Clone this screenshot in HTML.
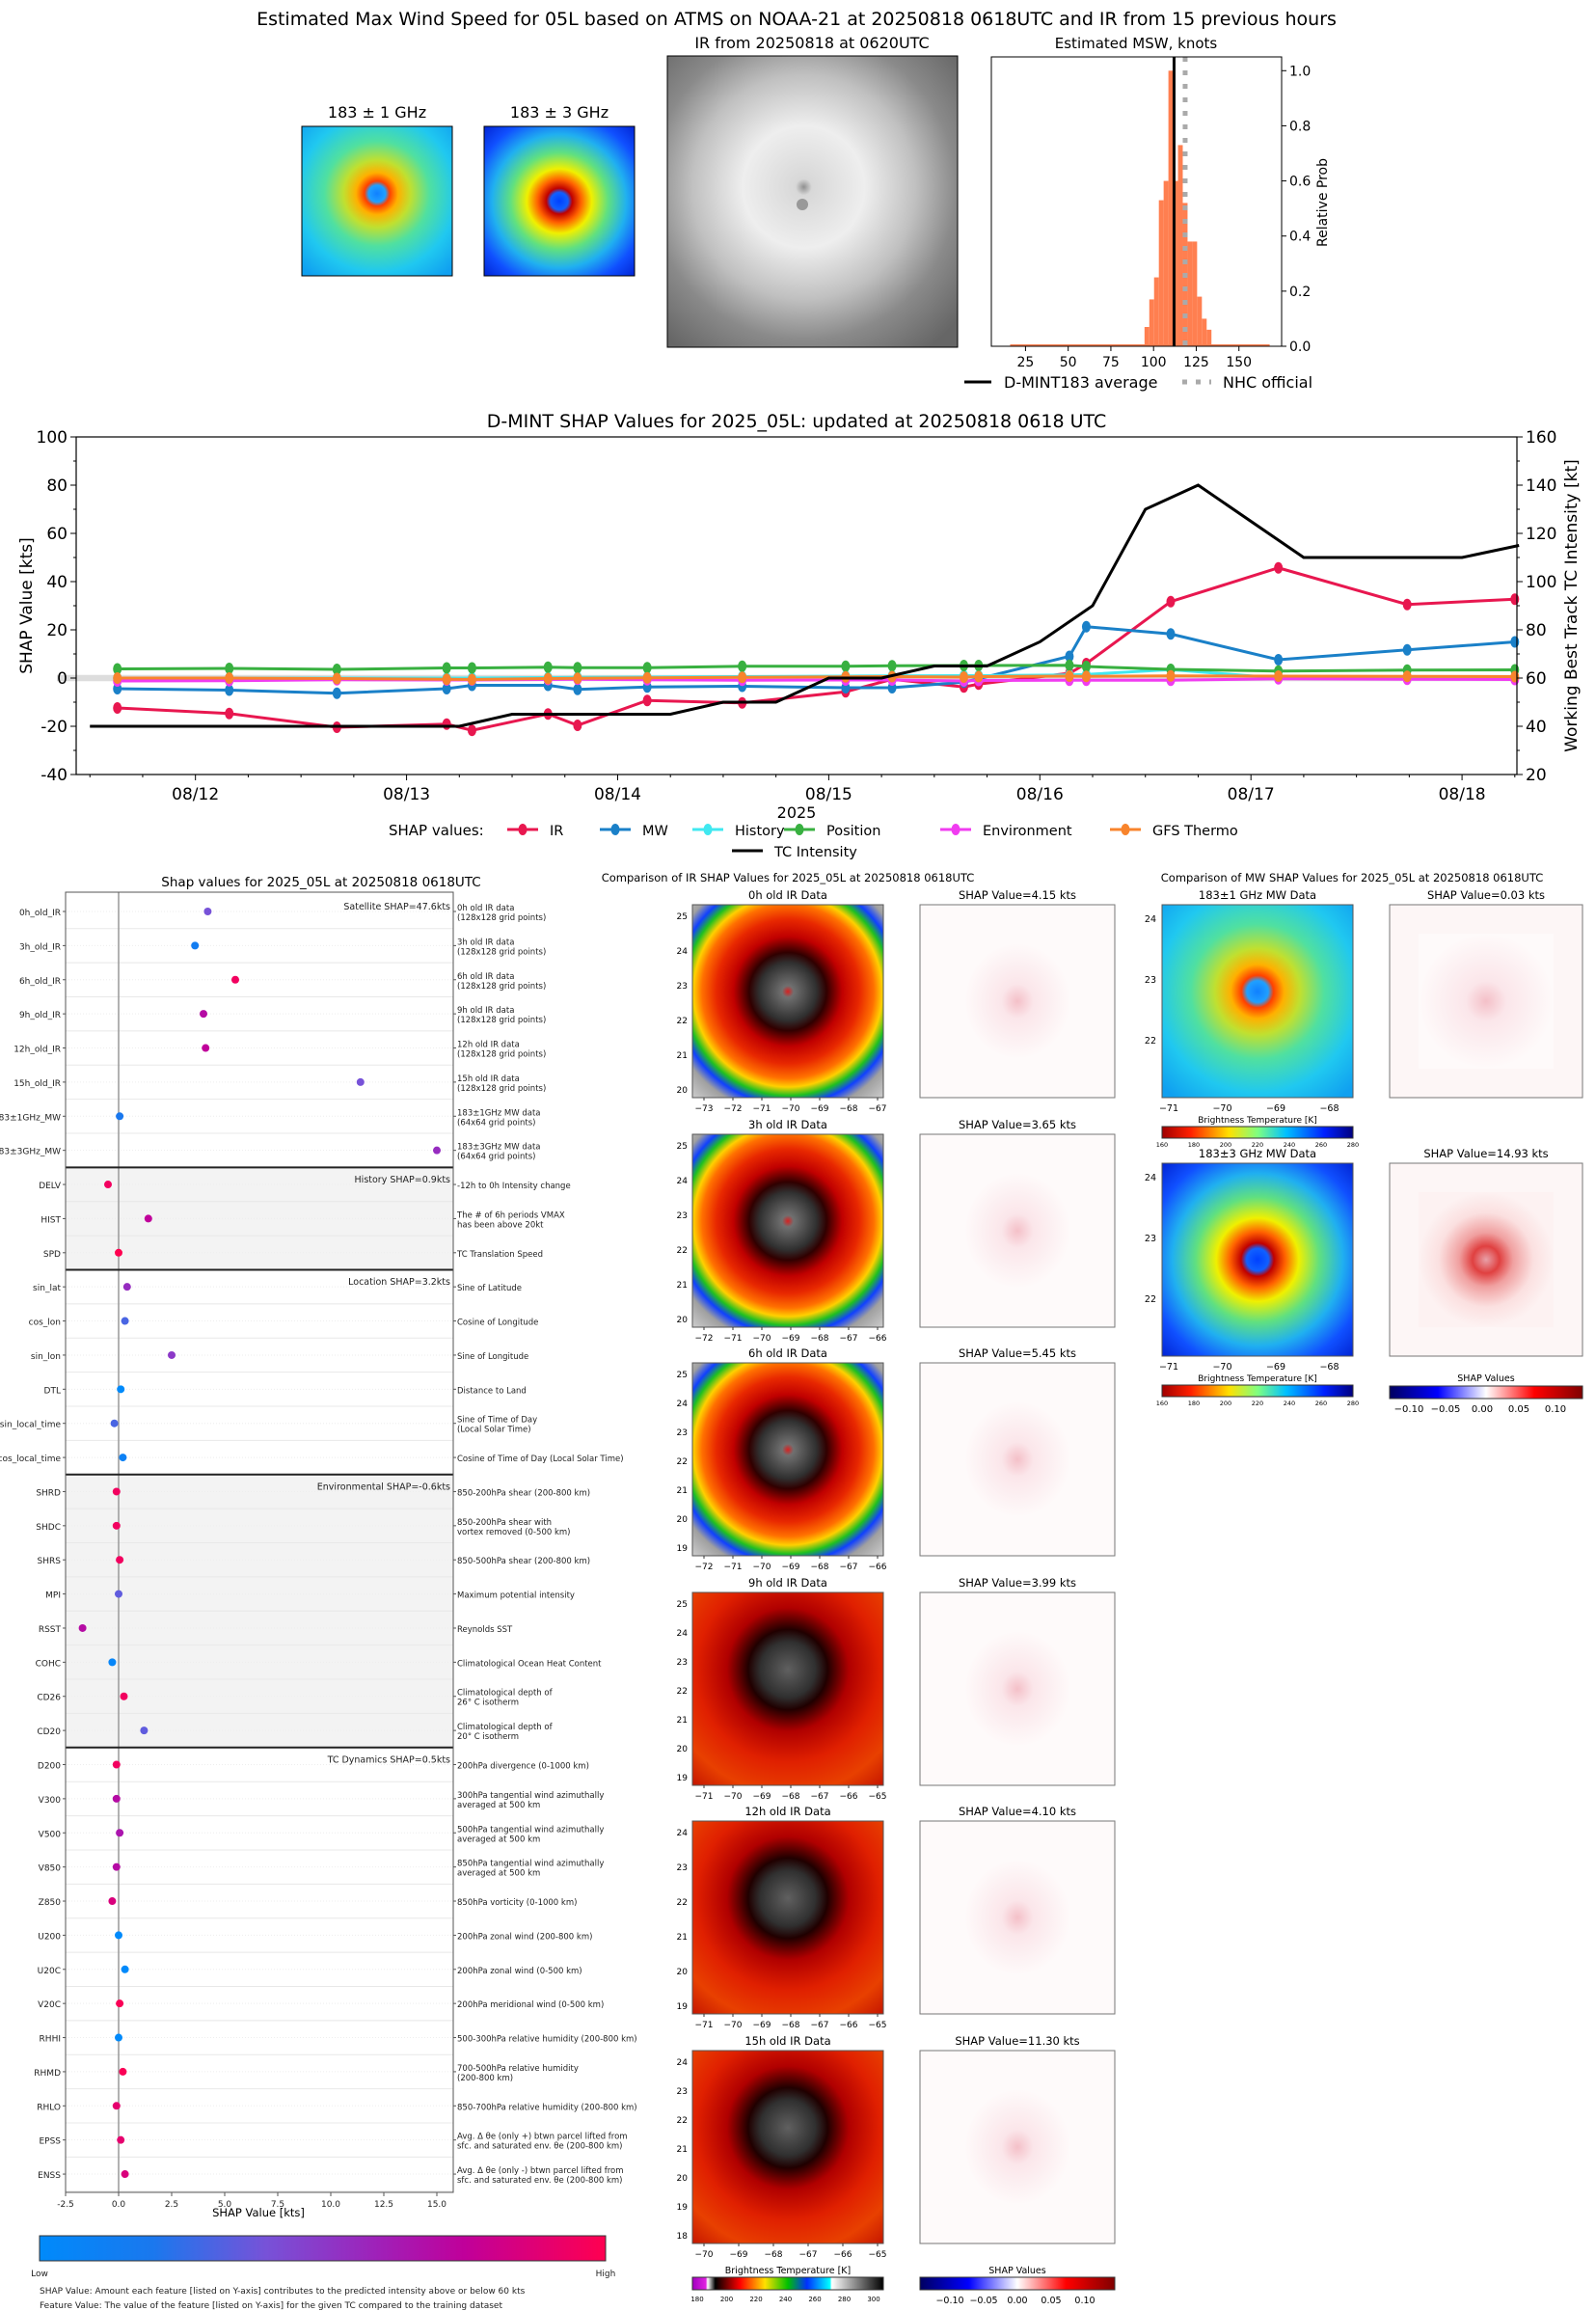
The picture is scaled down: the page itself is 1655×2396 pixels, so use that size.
<!DOCTYPE html>
<html><head><meta charset="utf-8">
<style>
html,body{margin:0;padding:0;background:#fff;}
svg{display:block;font-family:"DejaVu Sans","Liberation Sans",sans-serif;}
</style></head>
<body>
<svg id="fig" xmlns="http://www.w3.org/2000/svg" width="1655" height="2396" viewBox="0 0 1655 2396">
<defs>
 <radialGradient id="irEnh" cx="0.5" cy="0.45" r="0.75">
  <stop offset="0" stop-color="#d82020"/><stop offset="0.04" stop-color="#707070"/>
  <stop offset="0.2" stop-color="#303030"/><stop offset="0.27" stop-color="#300000"/>
  <stop offset="0.38" stop-color="#c00000"/><stop offset="0.5" stop-color="#e82800"/>
  <stop offset="0.6" stop-color="#ff7000"/><stop offset="0.66" stop-color="#ffd000"/>
  <stop offset="0.72" stop-color="#20c020"/><stop offset="0.78" stop-color="#1040ff"/>
  <stop offset="0.85" stop-color="#a0a0a0"/><stop offset="1" stop-color="#d0d0d0"/>
 </radialGradient>
 <radialGradient id="irEnh2" cx="0.5" cy="0.4" r="0.8">
  <stop offset="0" stop-color="#606060"/><stop offset="0.18" stop-color="#303030"/>
  <stop offset="0.26" stop-color="#200000"/><stop offset="0.4" stop-color="#b00000"/>
  <stop offset="0.6" stop-color="#e02000"/><stop offset="0.8" stop-color="#e84000"/>
  <stop offset="1" stop-color="#c01000"/>
 </radialGradient>
 <radialGradient id="irGray" cx="0.47" cy="0.45" r="0.7">
  <stop offset="0" stop-color="#909090"/><stop offset="0.04" stop-color="#d8d8d8"/>
  <stop offset="0.3" stop-color="#eeeeee"/><stop offset="0.55" stop-color="#c0c0c0"/>
  <stop offset="0.75" stop-color="#8a8a8a"/><stop offset="1" stop-color="#666"/>
 </radialGradient>
 <radialGradient id="mw1" cx="0.5" cy="0.45" r="0.7">
  <stop offset="0" stop-color="#1080ff"/><stop offset="0.08" stop-color="#20a0ff"/>
  <stop offset="0.12" stop-color="#ff4000"/><stop offset="0.2" stop-color="#ffb000"/>
  <stop offset="0.32" stop-color="#c0e030"/><stop offset="0.5" stop-color="#50e0a0"/>
  <stop offset="0.75" stop-color="#20c8f0"/><stop offset="1" stop-color="#10a0f0"/>
 </radialGradient>
 <radialGradient id="mw3" cx="0.5" cy="0.5" r="0.72">
  <stop offset="0" stop-color="#0040ff"/><stop offset="0.08" stop-color="#1060ff"/>
  <stop offset="0.12" stop-color="#c00000"/><stop offset="0.2" stop-color="#ff6000"/>
  <stop offset="0.3" stop-color="#f0f000"/><stop offset="0.45" stop-color="#60e080"/>
  <stop offset="0.62" stop-color="#20b0f0"/><stop offset="0.8" stop-color="#1050ff"/>
  <stop offset="1" stop-color="#0020d0"/>
 </radialGradient>
 <radialGradient id="shapW" cx="0.5" cy="0.5" r="0.5">
  <stop offset="0" stop-color="#f4c0c8"/><stop offset="0.3" stop-color="#fbe6ea"/>
  <stop offset="1" stop-color="#fefafa"/>
 </radialGradient>
 <radialGradient id="shapS" cx="0.5" cy="0.5" r="0.5">
  <stop offset="0" stop-color="#e8a0a8"/><stop offset="0.2" stop-color="#e04040"/>
  <stop offset="0.4" stop-color="#f0a0a0"/><stop offset="0.7" stop-color="#fbe0e0"/>
  <stop offset="1" stop-color="#fdf2f2"/>
 </radialGradient>
 <linearGradient id="featCb"><stop offset="0" stop-color="#008afb"/><stop offset="0.2" stop-color="#1a78ee"/><stop offset="0.4" stop-color="#7752d8"/><stop offset="0.6" stop-color="#a020b8"/><stop offset="0.75" stop-color="#c0009a"/><stop offset="1" stop-color="#ff0050"/></linearGradient>
 <linearGradient id="irCb"><stop offset="0" stop-color="#a000c0"/><stop offset="0.07" stop-color="#e020e0"/><stop offset="0.08" stop-color="#ffffff"/><stop offset="0.12" stop-color="#000"/><stop offset="0.25" stop-color="#ff0000"/><stop offset="0.38" stop-color="#ffe000"/><stop offset="0.5" stop-color="#00c000"/><stop offset="0.6" stop-color="#0030ff"/><stop offset="0.72" stop-color="#00ffff"/><stop offset="0.73" stop-color="#ffffff"/><stop offset="1" stop-color="#000"/></linearGradient>
 <linearGradient id="mwCb"><stop offset="0" stop-color="#a00000"/><stop offset="0.15" stop-color="#ff2000"/><stop offset="0.35" stop-color="#ffe000"/><stop offset="0.5" stop-color="#80ff80"/><stop offset="0.65" stop-color="#00c0ff"/><stop offset="0.85" stop-color="#0020ff"/><stop offset="1" stop-color="#000080"/></linearGradient>
 <linearGradient id="shCb"><stop offset="0" stop-color="#000060"/><stop offset="0.25" stop-color="#0000ff"/><stop offset="0.5" stop-color="#ffffff"/><stop offset="0.75" stop-color="#ff0000"/><stop offset="1" stop-color="#800000"/></linearGradient>
</defs>
<g id="root"></g>
</svg>
<script>
// ---------- Data ----------
const histBinStart = [94.7,97.5,100.3,103.1,105.9,108.7,111.5,114.3,117.1,119.9,122.7,125.5,128.3,131.1];
const histProb = [0.07,0.17,0.25,0.53,0.60,1.0,0.60,0.73,0.52,0.38,0.38,0.18,0.10,0.06];
const histBinWidth = 2.8;
const dmintAvg = 112;
const nhcOfficial = 118.5;
const histXTicks = [25,50,75,100,125,150];
const histYTicks = [0.0,0.2,0.4,0.6,0.8,1.0];

const shapTimes = [-0.37,0.16,0.67,1.19,1.31,1.67,1.81,2.14,2.59,3.08,3.30,3.64,3.71,4.14,4.22,4.62,5.13,5.74,6.25];
const irShap = [-12.4,-14.7,-20.4,-19.1,-21.7,-14.9,-19.6,-9.3,-10.3,-5.7,-0.5,-3.7,-2.5,2,6,31.7,45.7,30.5,32.7];
const mwShap = [-4.4,-5,-6.3,-4.4,-3,-3,-4.7,-3.7,-3.4,-4,-4,-1.7,-0.3,9,21.3,18.3,7.6,11.7,15];
const historyShap = [0,0,0,0,0,0.2,0.3,0.4,0.6,0.8,0.9,1,1,1.3,1.5,3.5,0,0,0];
const positionShap = [3.8,4,3.6,4.2,4.2,4.5,4.3,4.3,4.9,4.9,5.1,5.2,5.2,5.3,4.8,3.6,2.9,3.3,3.4];
const envShap = [-1.2,-1.1,-0.7,-0.8,-0.8,-0.6,-0.5,-0.7,-0.9,-0.8,-0.8,-1.2,-1.0,-0.9,-0.9,-0.9,-0.3,-0.5,-0.6];
const gfsShap = [0,0,-0.2,-0.5,-0.6,-0.2,-0.1,0.1,0.3,0.5,0.6,0.4,0.6,0.8,0.7,0.9,0.8,0.7,0.6];
const tcTimes = [-0.5,1.25,1.5,2.25,2.5,2.75,3,3.25,3.5,3.75,4,4.25,4.5,4.75,5.25,6,6.27];
const tcIntensity = [40,40,45,45,50,50,60,60,65,65,75,90,130,140,110,110,115];
const dateLabels = ['08/12','08/13','08/14','08/15','08/16','08/17','08/18'];
const leftTicks = [-40,-20,0,20,40,60,80,100];
const rightTicks = [20,40,60,80,100,120,140,160];

const featNames = ['0h_old_IR','3h_old_IR','6h_old_IR','9h_old_IR','12h_old_IR','15h_old_IR','183\u00b11GHz_MW','183\u00b13GHz_MW','DELV','HIST','SPD','sin_lat','cos_lon','sin_lon','DTL','sin_local_time','cos_local_time','SHRD','SHDC','SHRS','MPI','RSST','COHC','CD26','CD20','D200','V300','V500','V850','Z850','U200','U20C','V20C','RHHI','RHMD','RHLO','EPSS','ENSS'];
const featShap = [4.2,3.6,5.5,4.0,4.1,11.4,0.05,15.0,-0.5,1.4,0,0.4,0.3,2.5,0.1,-0.2,0.2,-0.1,-0.1,0.05,0,-1.7,-0.3,0.25,1.2,-0.1,-0.1,0.05,-0.1,-0.3,0,0.3,0.05,0,0.2,-0.1,0.1,0.3];
const featValue = [0.4,0.15,0.95,0.7,0.75,0.4,0.2,0.55,0.95,0.75,1.0,0.55,0.3,0.5,0.0,0.3,0.1,0.95,0.95,0.95,0.35,0.7,0.05,0.95,0.35,0.95,0.7,0.65,0.7,0.85,0.0,0.0,0.98,0.0,0.98,0.9,0.9,0.85];
const featDesc = [['0h old IR data','(128x128 grid points)'],['3h old IR data','(128x128 grid points)'],['6h old IR data','(128x128 grid points)'],['9h old IR data','(128x128 grid points)'],['12h old IR data','(128x128 grid points)'],['15h old IR data','(128x128 grid points)'],['183\u00b11GHz MW data','(64x64 grid points)'],['183\u00b13GHz MW data','(64x64 grid points)'],['-12h to 0h Intensity change'],['The # of 6h periods VMAX','has been above 20kt'],['TC Translation Speed'],['Sine of Latitude'],['Cosine of Longitude'],['Sine of Longitude'],['Distance to Land'],['Sine of Time of Day','(Local Solar Time)'],['Cosine of Time of Day (Local Solar Time)'],['850-200hPa shear (200-800 km)'],['850-200hPa shear with','vortex removed (0-500 km)'],['850-500hPa shear (200-800 km)'],['Maximum potential intensity'],['Reynolds SST'],['Climatological Ocean Heat Content'],['Climatological depth of','26\u00b0 C isotherm'],['Climatological depth of','20\u00b0 C isotherm'],['200hPa divergence (0-1000 km)'],['300hPa tangential wind azimuthally','averaged at 500 km'],['500hPa tangential wind azimuthally','averaged at 500 km'],['850hPa tangential wind azimuthally','averaged at 500 km'],['850hPa vorticity (0-1000 km)'],['200hPa zonal wind (200-800 km)'],['200hPa zonal wind (0-500 km)'],['200hPa meridional wind (0-500 km)'],['500-300hPa relative humidity (200-800 km)'],['700-500hPa relative humidity','(200-800 km)'],['850-700hPa relative humidity (200-800 km)'],['Avg. \u0394 \u03b8e (only +) btwn parcel lifted from','sfc. and saturated env. \u03b8e (200-800 km)'],['Avg. \u0394 \u03b8e (only -) btwn parcel lifted from','sfc. and saturated env. \u03b8e (200-800 km)']];
const groupStart = [0,8,11,17,25];
const groupEnd = [8,11,17,25,38];
const groupLabel = ['Satellite SHAP=47.6kts','History SHAP=0.9kts','Location SHAP=3.2kts','Environmental SHAP=-0.6kts','TC Dynamics SHAP=0.5kts'];
const featXTicks = [-2.5,0,2.5,5,7.5,10,12.5,15];

const irRowTitles = ['0h old IR Data','3h old IR Data','6h old IR Data','9h old IR Data','12h old IR Data','15h old IR Data'];
const irRowShap = ['4.15','3.65','5.45','3.99','4.10','11.30'];
const irLonTicks = [[-73,-72,-71,-70,-69,-68,-67],[-72,-71,-70,-69,-68,-67,-66],[-72,-71,-70,-69,-68,-67,-66],[-71,-70,-69,-68,-67,-66,-65],[-71,-70,-69,-68,-67,-66,-65],[-70,-69,-68,-67,-66,-65]];
const irLatTicks = [[25,24,23,22,21,20],[25,24,23,22,21,20],[25,24,23,22,21,20,19],[25,24,23,22,21,20,19],[24,23,22,21,20,19],[24,23,22,21,20,19,18]];

// ---------- helpers ----------
const NS='http://www.w3.org/2000/svg';
const root=document.getElementById('root');
function el(tag,attrs,parent){const e=document.createElementNS(NS,tag);for(const k in attrs)e.setAttribute(k,attrs[k]);(parent||root).appendChild(e);return e;}
function txt(s,x,y,size,anchor,parent,extra){const e=el('text',Object.assign({x:x,y:y,'font-size':size,'text-anchor':anchor||'start',fill:'#000'},extra||{}),parent);e.textContent=s;return e;}
function lerpColor(t){const st=[[0,[0,138,251]],[0.2,[26,120,238]],[0.4,[119,82,216]],[0.6,[160,32,184]],[0.75,[192,0,154]],[1,[255,0,80]]];for(let i=1;i<st.length;i++){if(t<=st[i][0]){const a=st[i-1],b=st[i];const f=(t-a[0])/(b[0]-a[0]);return 'rgb('+a[1].map((v,j)=>Math.round(v+(b[1][j]-v)*f)).join(',')+')';}}return 'rgb(255,0,80)';}

// ---------- Top title ----------
let t;
t=txt('Estimated Max Wind Speed for 05L based on ATMS on NOAA-21 at 20250818 0618UTC and IR from 15 previous hours',826,26,19,'middle');



[['183 \u00b1 1 GHz',313,'mw1'],['183 \u00b1 3 GHz',502,'mw3']].forEach((p,i)=>{
 const g=el('g',{});
 
 
 txt(p[0],p[1]+78,122,16,'middle',g);
 el('rect',{x:p[1],y:131,width:156,height:155,fill:'#2050ff'},g);
 el('rect',{x:p[1],y:131,width:156,height:155,fill:'url(#'+p[2]+')'},g);
 el('rect',{x:p[1],y:131,width:156,height:155,fill:'none',stroke:'#000','stroke-width':1},g);
});
{const g=el('g',{});
 
 
 txt('IR from 20250818 at 0620UTC',842,50,16,'middle',g);
 el('rect',{x:692,y:58,width:301,height:302,fill:'url(#irGray)'},g);
 el('circle',{cx:832,cy:212,r:6,fill:'#999'},g);
 el('rect',{x:692,y:58,width:301,height:302,fill:'none',stroke:'#000'},g);}

{const g=el('g',{});
 
 
 const X0=1028,X1=1329,Y0=59,Y1=359;
 const fx=v=>X0+(v-5)/170*(X1-X0), fy=p=>Y1-p/1.05*(Y1-Y0);
 txt('Estimated MSW, knots',1178,50,15,'middle',g);
 el('rect',{x:fx(16),y:fy(0.007),width:fx(168)-fx(16),height:Y1-fy(0.007),fill:'#ff7f50'},g);
 histBinStart.forEach((b,i)=>{const r=el('rect',{x:fx(b),y:fy(histProb[i]),width:fx(b+histBinWidth)-fx(b),height:Y1-fy(histProb[i]),fill:'#ff7f50'},g);
  
  });
 el('line',{x1:fx(dmintAvg),x2:fx(dmintAvg),y1:Y0,y2:Y1,stroke:'#000','stroke-width':3},g);
 el('line',{x1:fx(nhcOfficial),x2:fx(nhcOfficial),y1:Y0,y2:Y1,stroke:'#aaa','stroke-width':5,'stroke-dasharray':'5 9'},g);
 el('rect',{x:X0,y:Y0,width:X1-X0,height:Y1-Y0,fill:'none',stroke:'#000'},g);
 histXTicks.forEach(v=>{el('line',{x1:fx(v),x2:fx(v),y1:Y1,y2:Y1+5,stroke:'#000'},g);txt(String(v),fx(v),Y1+21,14,'middle',g);});
 histYTicks.forEach(v=>{el('line',{x1:X1,x2:X1+5,y1:fy(v),y2:fy(v),stroke:'#000'},g);txt(v.toFixed(1),X1+8,fy(v)+5,14,'start',g);});
 txt('Relative Prob',1376,210,14,'middle',g,{transform:'rotate(-90 1376 210)'});
 const lg=el('g',{},g);
 
 
 el('line',{x1:1000,x2:1028,y1:396,y2:396,stroke:'#000','stroke-width':3},lg);
 txt('D-MINT183 average',1041,402,16,'start',lg);
 el('line',{x1:1226,x2:1256,y1:396,y2:396,stroke:'#aaa','stroke-width':5,'stroke-dasharray':'5 9'},lg);
 txt('NHC official',1268,402,16,'start',lg);}

// ---------- SHAP time series ----------
{const g=el('g',{});
 
 
 const X0=79,X1=1573,Y0=453,Y1=803,dmin=-0.565,dmax=6.26;
 const fx=d=>X0+(d-dmin)/(dmax-dmin)*(X1-X0);
 const fy=v=>Y1-(v+40)/140*(Y1-Y0);
 const fyr=v=>Y1-(v-20)/140*(Y1-Y0);
 txt('D-MINT SHAP Values for 2025_05L: updated at 20250818 0618 UTC',826,443,19,'middle',g);
 el('rect',{x:X0-20,y:fy(1.3),width:X1-X0+20,height:fy(-1.3)-fy(1.3),fill:'#ddd'},g);
 const series=[[irShap,'#e8174f','ir'],[mwShap,'#1a80c8','mw'],[historyShap,'#40e8f0','history'],[positionShap,'#38b040','position'],[envShap,'#f03cf0','environment'],[gfsShap,'#f8842c','gfs-thermo']];
 series.forEach(s=>{
  const pts=shapTimes.map((d,i)=>fx(d)+','+fy(s[0][i])).join(' ');
  const pl=el('polyline',{points:pts,fill:'none',stroke:s[1],'stroke-width':3},g);
  
  
  shapTimes.forEach((d,i)=>{const c=el('ellipse',{cx:fx(d),cy:fy(s[0][i]),rx:4.5,ry:6,fill:s[1]},g);
   
   });
 });
 const tpl=el('polyline',{points:tcTimes.map((d,i)=>fx(d)+','+fyr(tcIntensity[i])).join(' '),fill:'none',stroke:'#000','stroke-width':3},g);
 
 
 el('rect',{x:X0,y:Y0,width:X1-X0,height:Y1-Y0,fill:'none',stroke:'#000','stroke-width':1.2},g);
 leftTicks.forEach(v=>{el('line',{x1:X0-6,x2:X0,y1:fy(v),y2:fy(v),stroke:'#000'},g);txt(String(v),X0-9,fy(v)+6,17,'end',g);});
 for(let v=-30;v<100;v+=20)el('line',{x1:X0-3,x2:X0,y1:fy(v),y2:fy(v),stroke:'#000'},g);
 rightTicks.forEach(v=>{el('line',{x1:X1,x2:X1+6,y1:fyr(v),y2:fyr(v),stroke:'#000'},g);txt(String(v),X1+9,fyr(v)+6,17,'start',g);});
 for(let v=30;v<160;v+=20)el('line',{x1:X1,x2:X1+3,y1:fyr(v),y2:fyr(v),stroke:'#000'},g);
 dateLabels.forEach((s,i)=>{el('line',{x1:fx(i),x2:fx(i),y1:Y1,y2:Y1+6,stroke:'#000'},g);txt(s,fx(i),Y1+26,17,'middle',g);});
 for(let d=-0.5;d<6.26;d+=0.25){if(Math.abs(d-Math.round(d))>0.01)el('line',{x1:fx(d),x2:fx(d),y1:Y1,y2:Y1+3,stroke:'#000'},g);}
 txt('2025',826,848,16,'middle',g);
 txt('SHAP Value [kts]',33,628,17,'middle',g,{transform:'rotate(-90 33 628)'});
 txt('Working Best Track TC Intensity [kt]',1635,628,17,'middle',g,{transform:'rotate(-90 1635 628)'});
 const lg=el('g',{},g);
 
 
 txt('SHAP values:',403,866,15,'start',lg);
 const legX=[542,638,734,829,991,1167];
 const legT=['IR','MW','History','Position','Environment','GFS Thermo'];
 series.forEach((s,i)=>{el('line',{x1:legX[i]-16,x2:legX[i]+16,y1:860,y2:860,stroke:s[1],'stroke-width':3},lg);el('ellipse',{cx:legX[i],cy:860,rx:4.5,ry:6,fill:s[1]},lg);txt(legT[i],legX[i]+28,866,14.5,'start',lg);});
 el('line',{x1:759,x2:791,y1:882,y2:882,stroke:'#000','stroke-width':3},lg);
 txt('TC Intensity',803,888,14.5,'start',lg);}

// ---------- Feature SHAP panel ----------
{const g=el('g',{});
 
 
 const X0=68,X1=470,Y0=925,Y1=2273,pitch=35.38,r0=945;
 const fx=v=>123+v*22.0;
 txt('Shap values for 2025_05L at 20250818 0618UTC',333,919,13.5,'middle',g);
 groupStart.forEach((s,k)=>{const top=k==0?Y0:r0+(s-0.5)*pitch, bot=k==4?Y1:r0+(groupEnd[k]-0.5)*pitch;
  el('rect',{x:X0,y:top,width:X1-X0,height:bot-top,fill:(k%2==1)?'#f3f3f3':'#fff'},g);});
 featNames.forEach((n,i)=>{const y=r0+i*pitch;
  el('line',{x1:X0,x2:X1,y1:y+pitch/2,y2:y+pitch/2,stroke:'#e8e8e8'},g);
  el('line',{x1:X0,x2:X1,y1:y,y2:y,stroke:'#eee','stroke-dasharray':'1 2'},g);});
 el('line',{x1:fx(0),x2:fx(0),y1:Y0,y2:Y1,stroke:'#999','stroke-width':1.5},g);
 groupStart.forEach((s,k)=>{if(k>0)el('line',{x1:X0,x2:X1,y1:r0+(s-0.5)*pitch,y2:r0+(s-0.5)*pitch,stroke:'#222','stroke-width':2},g);
  txt(groupLabel[k],X1-3,r0+s*pitch-2,9.5,'end',g,{fill:'#222'});});
 el('rect',{x:X0,y:Y0,width:X1-X0,height:Y1-Y0,fill:'none',stroke:'#555'},g);
 featNames.forEach((n,i)=>{const y=r0+i*pitch;
  txt(n,X0-5,y+4,9,'end',g,{fill:'#222'});
  el('line',{x1:X0-3,x2:X0,y1:y,y2:y,stroke:'#555'},g);
  el('line',{x1:X1,x2:X1+3,y1:y,y2:y,stroke:'#555'},g);
  const d=featDesc[i];
  if(d.length==1)txt(d[0],X1+4,y+4,8.5,'start',g,{fill:'#222'});
  else{txt(d[0],X1+4,y-1,8.5,'start',g,{fill:'#222'});txt(d[1],X1+4,y+9,8.5,'start',g,{fill:'#222'});}
  const c=el('circle',{cx:fx(featShap[i]),cy:y,r:4,fill:lerpColor(featValue[i])},g);
  
  });
 featXTicks.forEach(v=>{el('line',{x1:fx(v),x2:fx(v),y1:Y1,y2:Y1+4,stroke:'#555'},g);txt(v.toFixed(1),fx(v),Y1+15,9,'middle',g,{fill:'#222'});});
 txt('SHAP Value [kts]',268,2298,11.5,'middle',g);
 const cb=el('rect',{x:41,y:2318,width:587,height:26,fill:'url(#featCb)',stroke:'#333'},g);
 
 
 txt('Low',41,2360,9,'middle',g,{fill:'#222'});
 txt('High',628,2360,9,'middle',g,{fill:'#222'});
 txt('SHAP Value: Amount each feature [listed on Y-axis] contributes to the predicted intensity above or below 60 kts',41,2378,9,'start',g,{fill:'#222'});
 txt('Feature Value: The value of the feature [listed on Y-axis] for the given TC compared to the training dataset',41,2393,9,'start',g,{fill:'#222'});}

// ---------- IR SHAP comparison ----------
{const g=el('g',{});
 
 
 txt('Comparison of IR SHAP Values for 2025_05L at 20250818 0618UTC',817,914,11.5,'middle',g);
 const tops=[938,1176,1413,1651,1888,2126];
 tops.forEach((y,i)=>{
  const rg=el('g',{},g);
  
  
  txt(irRowTitles[i],817,y-6,11.5,'middle',rg);
  el('rect',{x:718,y:y,width:198,height:200,fill:i<3?'url(#irEnh)':'url(#irEnh2)'},rg);
  el('rect',{x:718,y:y,width:198,height:200,fill:'none',stroke:'#555'},rg);
  const lo=irLonTicks[i];lo.forEach((v,k)=>{const x=730+k*(180/(lo.length-1));el('line',{x1:x,x2:x,y1:y+200,y2:y+203,stroke:'#333'},rg);txt(String(v).replace('-','\u2212'),x,y+214,9,'middle',rg);});
  const la=irLatTicks[i];la.forEach((v,k)=>{const yy=y+12+k*(180/(la.length-1));txt(String(v),713,yy+3,9,'end',rg);});
  txt('SHAP Value='+irRowShap[i]+' kts',1055,y-6,11.5,'middle',rg);
  el('rect',{x:954,y:y,width:202,height:200,fill:'#fefafa'},rg);
  el('rect',{x:1000,y:y+40,width:110,height:120,fill:'url(#shapW)'},rg);
  el('rect',{x:954,y:y,width:202,height:200,fill:'none',stroke:'#777'},rg);});
 txt('Brightness Temperature [K]',817,2357,9.5,'middle',g);
 el('rect',{x:718,y:2361,width:198,height:13,fill:'url(#irCb)',stroke:'#333'},g);
 [180,200,220,240,260,280,300].forEach((v,k)=>txt(String(v),723+k*30.5,2386,7,'middle',g));
 txt('SHAP Values',1055,2357,9.5,'middle',g);
 el('rect',{x:954,y:2361,width:202,height:13,fill:'url(#shCb)',stroke:'#333'},g);
 ['\u22120.10','\u22120.05','0.00','0.05','0.10'].forEach((s,k)=>txt(s,985+k*35,2388,9.5,'middle',g));}

// ---------- MW SHAP comparison ----------
{const g=el('g',{});
 
 
 txt('Comparison of MW SHAP Values for 2025_05L at 20250818 0618UTC',1402,914,11.5,'middle',g);
 const rows=[[938,'183\u00b11 GHz MW Data','0.03','mw1','shapW'],[1206,'183\u00b13 GHz MW Data','14.93','mw3','shapS']];
 rows.forEach((r,i)=>{const y=r[0];
  const rg=el('g',{},g);
  
  
  txt(r[1],1304,y-6,11.5,'middle',rg);
  el('rect',{x:1205,y:y,width:198,height:200,fill:'url(#'+r[3]+')'},rg);
  el('rect',{x:1205,y:y,width:198,height:200,fill:'none',stroke:'#555'},rg);
  [-71,-70,-69,-68].forEach((v,k)=>{const x=1212+k*55.5;txt('\u2212'+String(-v),x,y+214,9.5,'middle',rg);});
  [24,23,22].forEach((v,k)=>txt(String(v),1199,y+18+k*63,9.5,'end',rg));
  txt('SHAP Value='+r[2]+' kts',1541,y-6,11.5,'middle',rg);
  el('rect',{x:1441,y:y,width:200,height:200,fill:'#fdf6f6'},rg);
  el('rect',{x:1471,y:y+30,width:140,height:140,fill:'url(#'+r[4]+')'},rg);
  el('rect',{x:1441,y:y,width:200,height:200,fill:'none',stroke:'#777'},rg);
  txt('Brightness Temperature [K]',1304,y+226,9,'middle',rg);
  el('rect',{x:1205,y:y+230,width:198,height:12,fill:'url(#mwCb)',stroke:'#333'},rg);
  [160,180,200,220,240,260,280].forEach((v,k)=>txt(String(v),1205+k*33,y+251,6.5,'middle',rg));});
 txt('SHAP Values',1541,1432,9.5,'middle',g);
 el('rect',{x:1441,y:1437,width:200,height:13,fill:'url(#shCb)',stroke:'#333'},g);
 ['\u22120.10','\u22120.05','0.00','0.05','0.10'].forEach((s,k)=>txt(s,1461+k*38,1464,10,'middle',g));}
</script>
</body></html>
